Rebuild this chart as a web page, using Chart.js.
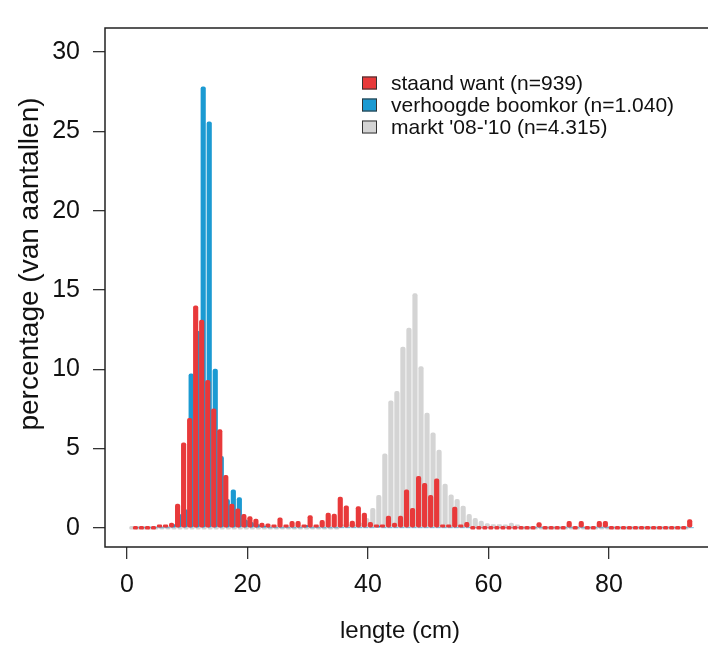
<!DOCTYPE html>
<html>
<head>
<meta charset="utf-8">
<script src="https://cdn.jsdelivr.net/npm/chart.js@4.4.1/dist/chart.umd.min.js"></script>
<style>
  html, body { margin: 0; padding: 0; background: #fff; overflow: hidden; }
</style>
</head>
<body>
<canvas id="lengthChart" width="708" height="649"></canvas>
<script>
// length classes (cm)
const lengths = [
  1, 2, 3, 4, 5, 6, 7, 8, 9, 10, 11, 12, 13, 14, 15, 16, 17, 18, 19, 20,
  21, 22, 23, 24, 25, 26, 27, 28, 29, 30, 31, 32, 33, 34, 35, 36, 37, 38, 39, 40,
  41, 42, 43, 44, 45, 46, 47, 48, 49, 50, 51, 52, 53, 54, 55, 56, 57, 58, 59, 60,
  61, 62, 63, 64, 65, 66, 67, 68, 69, 70, 71, 72, 73, 74, 75, 76, 77, 78, 79, 80,
  81, 82, 83, 84, 85, 86, 87, 88, 89, 90, 91, 92, 93,
];

// percentage per length class
const staandWant = [
  0, 0, 0, 0, 0.05, 0.15, 0.3, 1.5, 5.35, 6.9,
  14.0, 13.1, 9.3, 7.5, 6.2, 3.3, 1.5, 1.2, 0.85, 0.7,
  0.55, 0.3, 0.25, 0.15, 0.62, 0.1, 0.4, 0.4, 0.1, 0.77,
  0.15, 0.47, 0.93, 0.87, 1.94, 1.39, 0.42, 1.33, 0.93, 0.35,
  0.05, 0.05, 0.73, 0.3, 0.73, 2.4, 1.23, 3.25, 2.8, 2.04,
  3.09, 0.15, 0.15, 1.3, 0.1, 0.35, 0, 0, 0, 0,
  0, 0, 0, 0, 0, 0, 0, 0.33, 0, 0,
  0, 0, 0.4, 0, 0.4, 0, 0, 0.4, 0.4, 0,
  0, 0, 0, 0, 0, 0, 0, 0, 0, 0,
  0, 0, 0.52,
];

const boomkor = [
  0, 0, 0, 0, 0, 0, 0.2, 0.85, 1.15, 9.7,
  12.4, 27.8, 25.6, 10.0, 4.5, 1.8, 2.4, 1.9, 0.5, 0.35,
  0.2, 0.1, 0, 0, 0, 0, 0, 0, 0.15, 0,
  0, 0, 0, 0, 0, 0, 0, 0, 0, 0,
  0.1, 0, 0, 0, 0, 0, 0, 0, 0, 0,
  0, 0, 0, 0, 0, 0, 0, 0, 0, 0,
  0, 0, 0, 0, 0, 0, 0, 0, 0, 0,
  0, 0, 0, 0, 0, 0, 0, 0, 0, 0,
  0, 0, 0, 0, 0, 0, 0, 0, 0, 0,
  0, 0, 0,
];

const markt = [
  0, 0, 0, 0, 0, 0, 0, 0, 0, 0,
  0, 0, 0, 0, 0, 0, 0, 0, 0, 0,
  0, 0, 0, 0, 0, 0, 0, 0, 0, 0,
  0, 0, 0, 0, 0, 0.05, 0.1, 0.15, 0.3, 0.6,
  1.23, 2.04, 4.67, 8.0, 8.6, 11.4, 12.6, 14.77, 10.16, 7.23,
  5.98, 4.9, 2.75, 2.08, 1.8, 1.37, 0.85, 0.6, 0.42, 0.27,
  0.2, 0.2, 0.15, 0.3, 0.1, 0, 0, 0, 0, 0,
  0, 0, 0, 0, 0, 0, 0, 0, 0, 0,
  0, 0, 0, 0, 0, 0, 0, 0, 0, 0,
  0, 0, 0,
];

const seriesLabels = [
  "staand want (n=939)",
  "verhoogde boomkor (n=1.040)",
  "markt '08-'10 (n=4.315)",
];

const xTicks = [0, 20, 40, 60, 80];
const yTicks = [0, 5, 10, 15, 20, 25, 30];

const FONT = "'Liberation Sans', Arial, sans-serif";
Chart.defaults.font.family = FONT;
Chart.defaults.color = "#111";

// one dataset of thin bars, shifted a little so the three series sit side by side
function makeSet(label, values, color, dx, minLen) {
  return {
    label: label,
    data: lengths.map((l, i) => ({ x: l + dx, y: values[i] })),
    backgroundColor: color,
    borderWidth: 0,
    barThickness: 4.5,
    borderRadius: 2,
    borderSkipped: false,
    minBarLength: minLen,
    grouped: false,
  };
}

// box around the plot region (right side runs off the picture)
const framePlugin = {
  id: "frame",
  afterDraw(chart) {
    const { ctx, chartArea: a, width } = chart;
    ctx.save();
    ctx.strokeStyle = "#222";
    ctx.lineWidth = 1.5;
    ctx.beginPath();
    ctx.moveTo(width, a.top);
    ctx.lineTo(a.left, a.top);
    ctx.lineTo(a.left, a.bottom);
    ctx.lineTo(width, a.bottom);
    ctx.stroke();
    ctx.restore();
  },
};

// rotated y axis title, placed a bit above the middle of the plot like the original
const yTitle = {
  id: "yTitle",
  afterDraw(chart, args, opts) {
    const ctx = chart.ctx;
    ctx.save();
    ctx.translate(opts.x, opts.y);
    ctx.rotate(-Math.PI / 2);
    ctx.font = opts.font;
    ctx.fillStyle = "#111";
    ctx.textAlign = "center";
    ctx.textBaseline = "middle";
    ctx.fillText(opts.text, 0, 0);
    ctx.restore();
  },
};

// legend with outlined boxes, inside the plot
const boxLegend = {
  id: "boxLegend",
  afterDraw(chart, args, opts) {
    const ctx = chart.ctx;
    ctx.save();
    ctx.font = opts.font;
    ctx.textBaseline = "middle";
    chart.data.datasets.forEach((ds, i) => {
      const y = opts.y + i * opts.rowHeight;
      ctx.fillStyle = ds.backgroundColor;
      ctx.fillRect(opts.x, y - 6.5, 15, 13);
      ctx.strokeStyle = "#333";
      ctx.lineWidth = 1;
      ctx.strokeRect(opts.x + 0.5, y - 6, 14, 12);
      ctx.fillStyle = "#111";
      ctx.fillText(ds.label, opts.x + 29, y + 1);
    });
    ctx.restore();
  },
};

const ctx = document.getElementById("lengthChart");
new Chart(ctx, {
  type: "bar",
  data: {
    datasets: [
      makeSet(seriesLabels[0], staandWant, "#e8393a", 0.4, 3),
      makeSet(seriesLabels[1], boomkor, "#1b9ad2", 0.65, 0),
      makeSet(seriesLabels[2], markt, "#d4d4d4", -0.2, 3),
    ],
  },
  options: {
    responsive: false,
    animation: false,
    devicePixelRatio: 1,
    layout: { padding: { top: 7, left: 0, right: 13, bottom: 0 } },
    plugins: {
      legend: { display: false },
      tooltip: { enabled: false },
      boxLegend: { x: 362, y: 83, rowHeight: 22, font: "21px " + FONT },
      yTitle: {
        text: "percentage (van aantallen)",
        x: 30,
        y: 264,
        font: "28px " + FONT,
      },
    },
    scales: {
      x: {
        type: "linear",
        min: -3.65,
        max: 94.28,
        offset: false,
        afterBuildTicks: (s) => {
          s.ticks = xTicks.map((v) => ({ value: v }));
        },
        afterFit: (s) => {
          s.height = 102;
        },
        grid: {
          offset: false,
          drawOnChartArea: false,
          drawTicks: true,
          tickLength: 12,
          color: "#333",
          lineWidth: 1.3,
        },
        border: { display: false },
        ticks: {
          color: "#111",
          font: { size: 25 },
          padding: 11,
          maxRotation: 0,
          autoSkip: false,
        },
        title: {
          display: true,
          text: "lengte (cm)",
          color: "#111",
          font: { size: 24 },
          padding: { top: 0, bottom: 3 },
        },
      },
      y: {
        type: "linear",
        min: -1.212,
        max: 31.515,
        afterBuildTicks: (s) => {
          s.ticks = yTicks.map((v) => ({ value: v }));
        },
        afterFit: (s) => {
          s.width = 105;
        },
        grid: {
          drawOnChartArea: false,
          drawTicks: true,
          tickLength: 12,
          color: "#333",
          lineWidth: 1.3,
        },
        border: { display: false },
        ticks: {
          color: "#111",
          font: { size: 25 },
          padding: 13,
        },
      },
    },
  },
  plugins: [framePlugin, boxLegend, yTitle],
});
</script>
</body>
</html>
